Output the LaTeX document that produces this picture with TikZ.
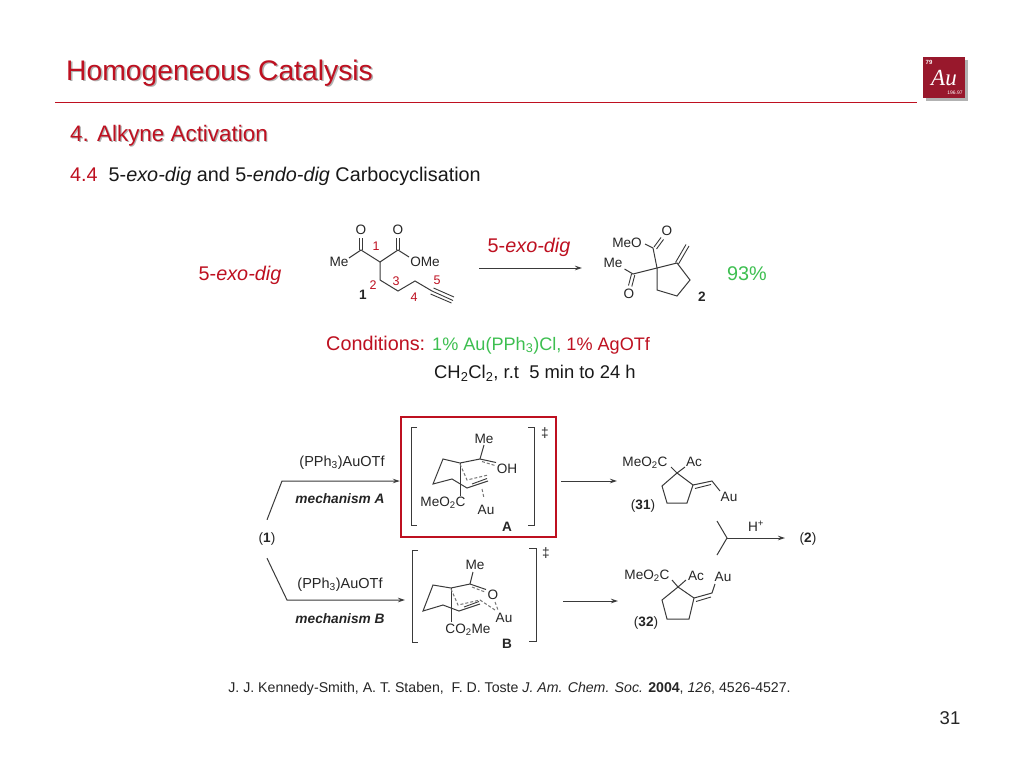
\documentclass[tikz,border=0pt]{standalone}
\usepackage{fontspec}
\setmainfont{Liberation Sans}
\usetikzlibrary{arrows.meta}
\definecolor{aured}{HTML}{BE1020}
\definecolor{augreen}{HTML}{3DBF50}
\definecolor{bondgrey}{HTML}{3A3A3A}
\definecolor{logored}{HTML}{98182C}
\tikzset{
  bond/.style={draw=bondgrey,line width=1pt},
  dblbond/.style={draw=bondgrey,line width=0.9pt},
  ghost/.style={draw=bondgrey!70,line width=1pt,dash pattern=on 3pt off 2pt},
  rxn/.style={draw=bondgrey,line width=1pt,-{Stealth[length=7pt,width=4.5pt]}},
  atom/.style={font=\fontsize{13.6}{15}\selectfont,text=black!85,inner sep=0pt},
  numred/.style={font=\fontsize{12.5}{14}\selectfont,text=aured,inner sep=0pt},
  cmpd/.style={font=\fontsize{13.6}{15}\selectfont,text=black!85,inner sep=0pt},
  catlabel/.style={font=\fontsize{14.5}{16}\selectfont,text=black!85,inner sep=0pt},
  mechlabel/.style={font=\fontsize{13.7}{16}\selectfont\bfseries\itshape,text=black!85,inner sep=0pt},
  exolabel/.style={font=\fontsize{19.8}{22}\selectfont,text=aured,inner sep=0pt,anchor=base},
  heading/.style={text=aured,inner sep=0pt,anchor=base west},
  headshadow/.style={text=black!30,inner sep=0pt,anchor=base west}
}
\begin{document}
\begin{tikzpicture}[x=1pt,y=-1pt]
  \useasboundingbox[fill=white] (0,0) rectangle (1024,768);
  %% header
  \node[headshadow,font=\fontsize{28.3}{30}\selectfont] (titleshadow) at (67.5,81.5) {Homogeneous Catalysis};
  \node[heading,font=\fontsize{28.3}{30}\selectfont] (title) at (66,80) {Homogeneous Catalysis};
  \draw[aured,line width=0.9pt] (55,102) -- (917,102);
  \node[headshadow,font=\fontsize{22.4}{25}\selectfont] (subshadow) at (71.2,142.2) {4. Alkyne Activation};
  \node[heading,font=\fontsize{22.4}{25}\selectfont] (sub) at (70,141) {4. Alkyne Activation};
  \node[anchor=base west,inner sep=0pt,font=\fontsize{19.8}{22}\selectfont,text=black!90] (section) at (70,181)
    {\textcolor{aured}{4.4}\ \ 5-\textit{exo-dig} and 5-\textit{endo-dig} Carbocyclisation};
  %% logo
  \fill[black!30] (926,60) rectangle (968,101);
  \node[fill=logored,minimum width=42pt,minimum height=41pt,inner sep=0pt] (logo) at (944,77.5) {};
  \node[text=white,font=\fontsize{6}{7}\selectfont\bfseries,inner sep=0pt] (logoz) at (929,62) {79};
  \node[text=white,font=\fontsize{23}{24}\selectfont\itshape,inner sep=0pt] (logoau) at (944,78) {\fontspec{Liberation Serif}Au};
  \node[text=white,font=\fontsize{5}{6}\selectfont,inner sep=0pt] (logom) at (955,93) {196.97};
  %% top reaction: compound 1
  \draw[bond] (349,258) -- (361,250) -- (380,262) -- (398,250) -- (409,257);
  \draw[bond] (380,262) -- (380,280) -- (398,291) -- (415,281) -- (432,291);
  \draw[dblbond] (359.3,250) -- (359.3,238) (362.7,250) -- (362.7,238); % C=O acetyl
  \draw[dblbond] (396.3,250) -- (396.3,238) (399.7,250) -- (399.7,238); % C=O ester
  \draw[dblbond] (432,291) -- (453,300.5) (433.5,288) -- (454,297) (430.5,294) -- (451.5,303); % alkyne
  \node[atom] (o1a) at (361,230) {O};
  \node[atom] (o1b) at (398,230) {O};
  \node[atom] (me1) at (339,262) {Me};
  \node[atom] (ome1) at (425,262) {OMe};
  \node[numred] (n1) at (376,246) {1};
  \node[numred] (n2) at (373,285) {2};
  \node[numred] (n3) at (396,281) {3};
  \node[numred] (n4) at (414,297) {4};
  \node[numred] (n5) at (437,280) {5};
  \node[cmpd] (cmpd1) at (363,295) {\textbf{1}};
  %% top reaction: arrow
  \node[exolabel] (exotop) at (529,252.5) {5-\textit{exo-dig}};
  \coordinate (toparrowa) at (479,268);
  \coordinate (toparrowb) at (582,268);
  \draw[rxn] (toparrowa) -- (toparrowb);
  \node[exolabel] (exoleft) at (240,280.5) {5-\textit{exo-dig}};
  %% top reaction: compound 2
  \draw[bond] (657,268) -- (677,263) -- (690,280) -- (677,296) -- (657,290) -- (657,268);
  \draw[bond] (657,268) -- (653,248) -- (645,244);
  \draw[bond] (657,268) -- (633,274) -- (624.5,269);
  \draw[dblbond] (654,247) -- (661,237.5) (656.5,249) -- (663.5,239.5); % C=O ester
  \draw[dblbond] (631.5,274) -- (628.5,285.5) (634.8,275) -- (631.8,286.5); % C=O acetyl
  \draw[dblbond] (675.5,262.5) -- (686,244.5) (678.5,264) -- (689,246); % =CH2
  \node[atom] (meo2) at (627,243) {MeO};
  \node[atom] (o2a) at (667,231) {O};
  \node[atom] (me2) at (613,263) {Me};
  \node[atom] (o2b) at (629,294) {O};
  \node[cmpd] (cmpd2) at (702,297) {\textbf{2}};
  \node[exolabel,text=augreen] (yield) at (747,280) {93\%};
  %% conditions
  \node[anchor=base west,inner sep=0pt,font=\fontsize{19.8}{22}\selectfont,text=aured] (cond) at (326,350) {Conditions:};
  \node[anchor=base west,inner sep=0pt,font=\fontsize{18.1}{20}\selectfont,text=augreen] (condb) at (432,350)
    {1\% Au(PPh\textsubscript{3})Cl, \textcolor{aured}{1\% AgOTf}};
  \node[anchor=base west,inner sep=0pt,font=\fontsize{18.4}{20}\selectfont,text=black!90] (condc) at (434,378)
    {CH\textsubscript{2}Cl\textsubscript{2}, r.t\ \ 5 min to 24 h};
  %% mechanism: branches
  \node[cmpd,minimum height=38pt] (one) at (267,539) {(\textbf{1})};
  \node[draw=aured,line width=2.4pt,minimum width=155pt,minimum height=120pt,inner sep=0pt] (boxA) at (478.5,477) {};
  \coordinate (armA) at (282,481);
  \coordinate (armB) at (287,600);
  \coordinate (endB) at (405,600);
  \draw[rxn] (one.north) -- (armA) -- (armA -| boxA.west);
  \draw[rxn] (one.south) -- (armB) -- (endB);
  \node[catlabel] (catA) at (342,463) {(PPh\textsubscript{3})AuOTf};
  \node[mechlabel] (mechA) at (340,499) {mechanism A};
  \node[catlabel] (catB) at (340,585) {(PPh\textsubscript{3})AuOTf};
  \node[mechlabel] (mechB) at (340,619) {mechanism B};
  %% transition state A
  \draw[bond] (417,427) -- (411,427) -- (411,525) -- (417,525);
  \draw[bond] (528,427) -- (534,427) -- (534,525) -- (528,525);
  \draw[bond] (484,445) -- (480,459) -- (460,463) -- (443,459) -- (433,484) -- (452,479) -- (467,488) -- (488,481);
  \draw[bond] (460,463) -- (460,496);
  \draw[bond] (480,459) -- (496,462.5);
  \draw[dblbond] (472,484) -- (487,478.5);
  \draw[ghost] (460,464) -- (467,480) -- (488,475);
  \draw[ghost] (482,461.5) -- (495,465.5);
  \draw[ghost] (482,489) -- (484,498);
  \node[atom] (meA) at (484,439) {Me};
  \node[atom] (ohA) at (507,469) {OH};
  \node[atom] (co2A) at (443,503) {MeO\textsubscript{2}C};
  \node[atom] (auA) at (486,510) {Au};
  \node[cmpd] (labA) at (507,527) {\textbf{A}};
  \node[atom] (ddagA) at (545,433) {‡};
  %% transition state B
  \draw[bond] (418,550) -- (412,550) -- (412,642) -- (418,642);
  \draw[bond] (529,548) -- (536,548) -- (536,641) -- (529,641);
  \draw[bond] (473,572) -- (470,584) -- (451,588) -- (433,585) -- (423,611) -- (443,605) -- (459,611) -- (480,604);
  \draw[bond] (451,588) -- (451,622);
  \draw[bond] (470,584) -- (486,589.5);
  \draw[dblbond] (464,607) -- (479,601.5);
  \draw[ghost] (451,589) -- (458,605) -- (480,600) -- (495,610);
  \draw[ghost] (472,587) -- (485,592);
  \draw[ghost] (495,602) -- (498,610);
  \node[atom] (meB) at (475,565) {Me};
  \node[atom] (oB) at (493,595) {O};
  \node[atom] (co2B) at (468,630) {CO\textsubscript{2}Me};
  \node[atom] (auB) at (504,618) {Au};
  \node[cmpd] (labB) at (507,644) {\textbf{B}};
  \node[atom] (ddagB) at (546,553) {‡};
  %% arrows to products
  \coordinate (prodAa) at (561,481);
  \coordinate (prodAb) at (617,481);
  \coordinate (prodBa) at (563,601);
  \coordinate (prodBb) at (618,601);
  \draw[rxn] (prodAa) -- (prodAb);
  \draw[rxn] (prodBa) -- (prodBb);
  %% product 31
  \draw[bond] (677,473) -- (662,486) -- (667,503) -- (687,503) -- (693,485) -- (677,473);
  \draw[bond] (671,467) -- (677,473) -- (685,467);
  \draw[bond] (693,485) -- (712,481) -- (720,491);
  \draw[dblbond] (695,488.5) -- (711,484.5);
  \node[atom] (co231) at (645,463) {MeO\textsubscript{2}C};
  \node[atom] (ac31) at (694,462) {Ac};
  \node[atom] (au31) at (729,497) {Au};
  \node[cmpd] (cmpd31) at (643,506) {(\textbf{31})};
  %% product 32
  \draw[bond] (678,587) -- (662,600) -- (667,619) -- (689,619) -- (694,598) -- (678,587);
  \draw[bond] (672,580) -- (678,587) -- (686,580);
  \draw[bond] (694,598) -- (712,593) -- (715,584);
  \draw[dblbond] (696,601.5) -- (711,597);
  \node[atom] (co232) at (647,576) {MeO\textsubscript{2}C};
  \node[atom] (ac32) at (696,576) {Ac};
  \node[atom] (au32) at (723,577) {Au};
  \node[cmpd] (cmpd32) at (646,623) {(\textbf{32})};
  %% fork to 2
  \coordinate (forka) at (717,521);
  \coordinate (forkb) at (717,555);
  \coordinate (forkm) at (727,538);
  \coordinate (forktip) at (785,538);
  \node[cmpd] (two) at (808,539) {(\textbf{2})};
  \draw[bond] (forka) -- (forkm) -- (forkb);
  \draw[rxn] (forkm) -- (forktip);
  \node[atom] (hplus) at (756,526) {H\textsuperscript{+}};
  %% footer
  \node[anchor=base,inner sep=0pt,font=\fontsize{14.15}{15}\selectfont,text=black!85] (cite) at (509.5,692)
    {J. J. Kennedy-Smith, A. T. Staben,\ \ F. D. Toste \textit{J. Am. Chem. Soc.} \textbf{2004}, \textit{126}, 4526-4527.};
  \node[anchor=base,inner sep=0pt,font=\fontsize{18.5}{21}\selectfont,text=black!85] (page) at (950,724) {31};
\end{tikzpicture}
\end{document}
